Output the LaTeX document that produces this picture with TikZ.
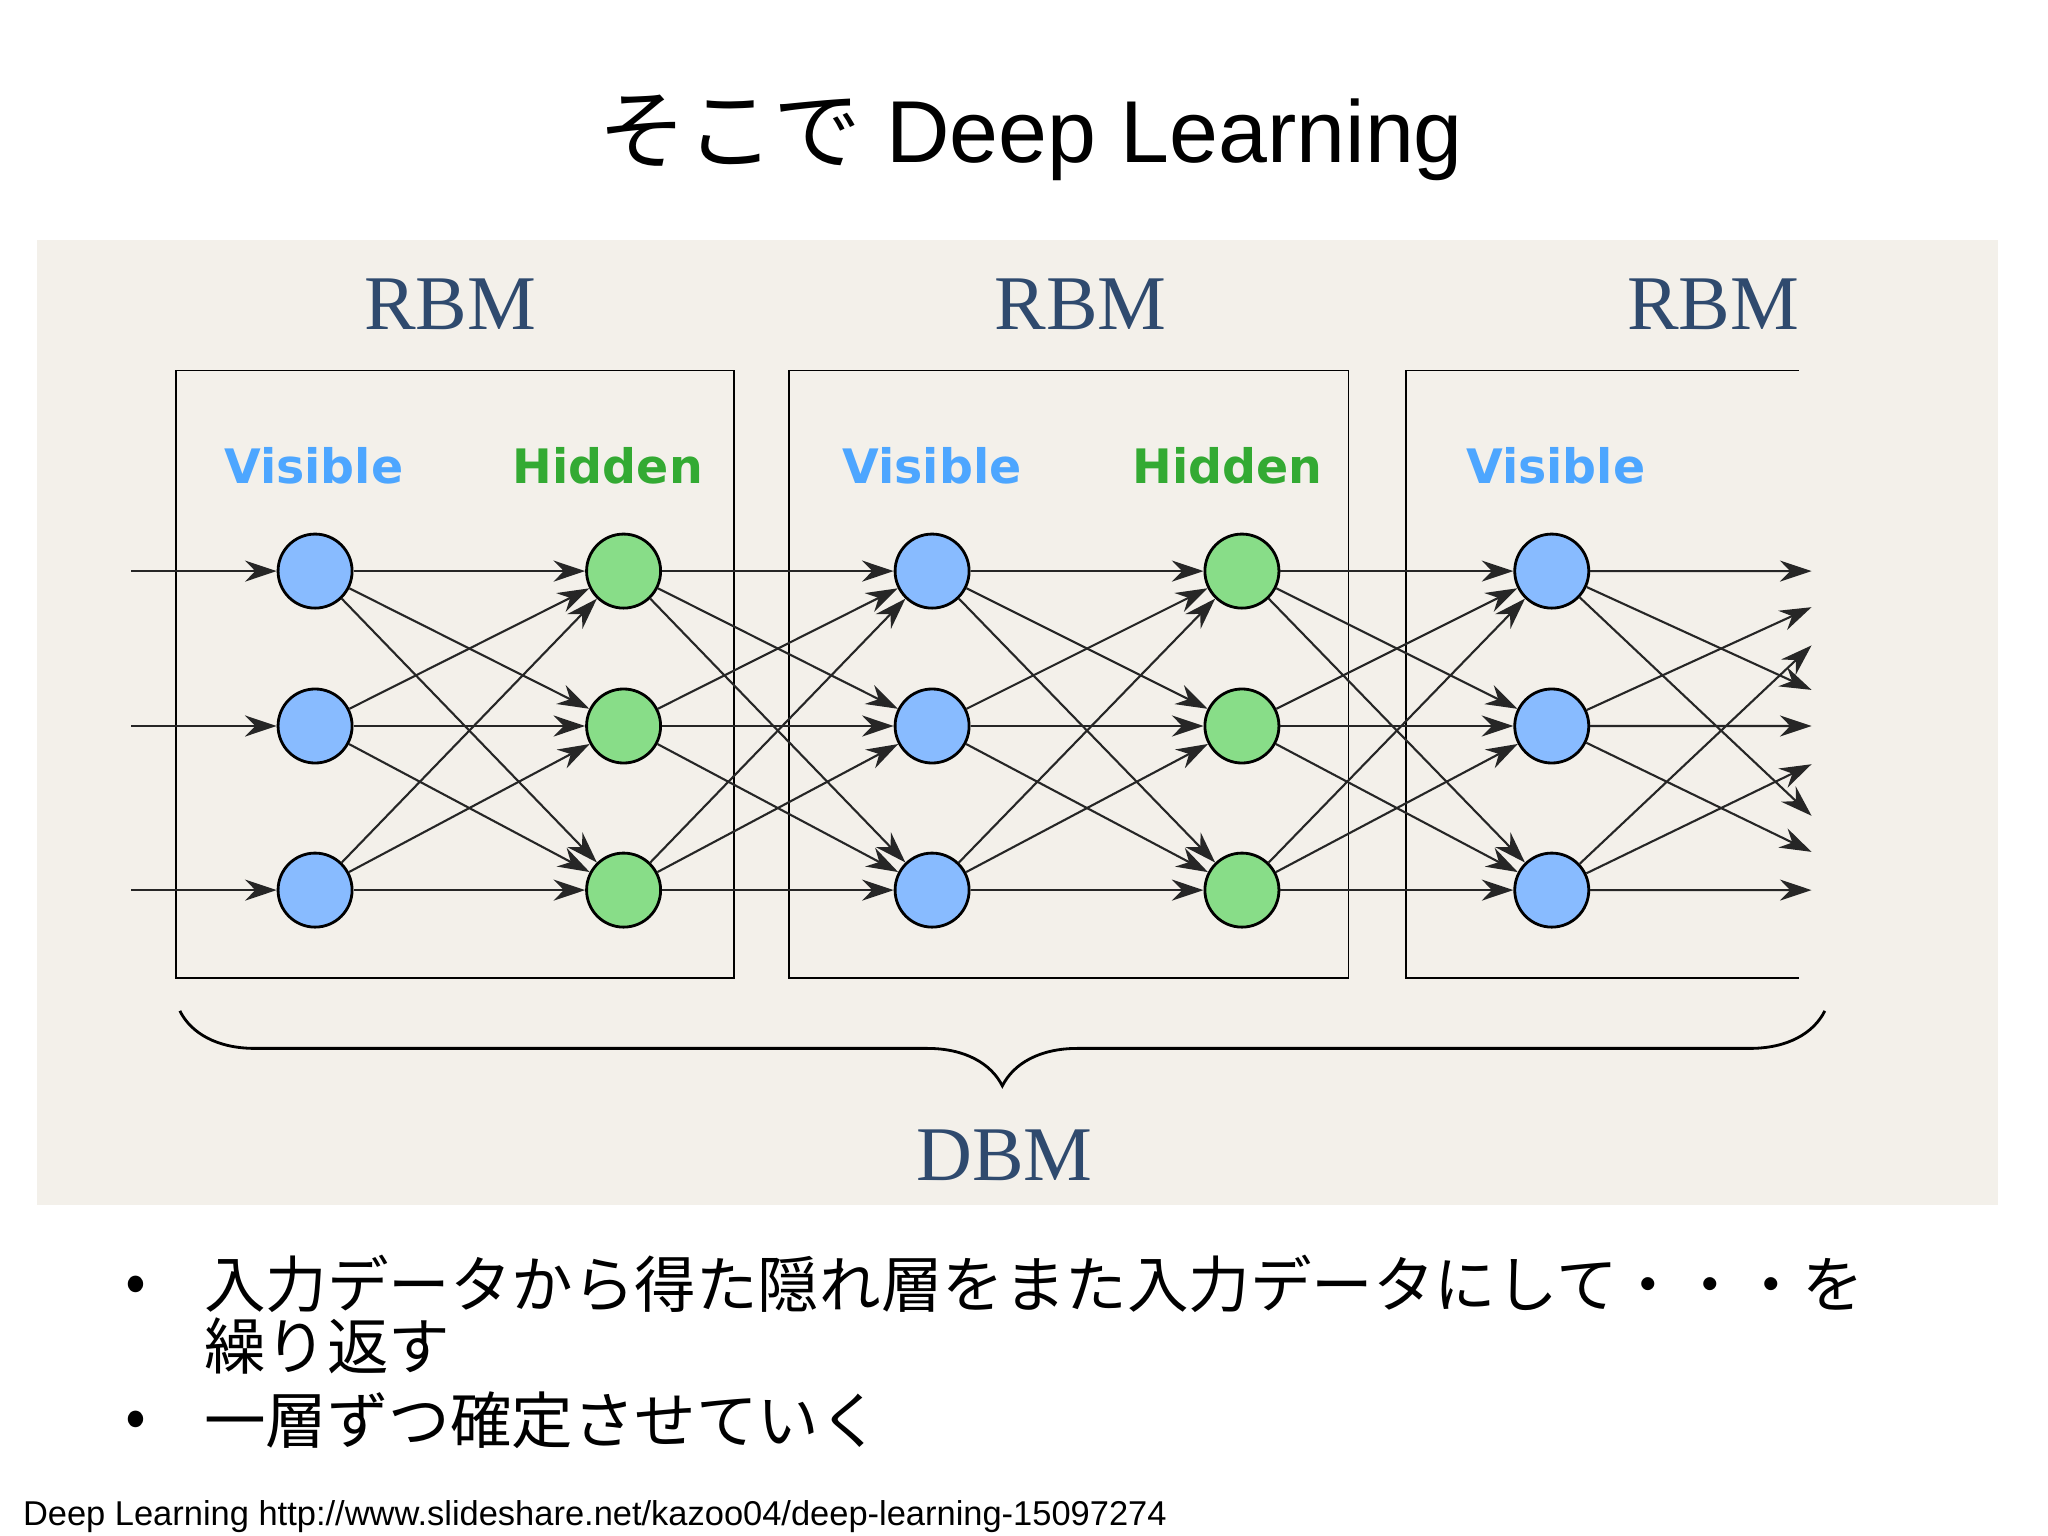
\documentclass[tikz,border=0pt]{standalone}
\usepackage{fontspec}
\setmainfont{Liberation Sans}
\newfontfamily\cjk{Noto Sans CJK JP}
\newfontfamily\rbmfont{Liberation Serif}
\newfontfamily\labfont{DejaVu Sans}
\usetikzlibrary{arrows.meta, decorations.pathreplacing, calc}
\definecolor{panel}{HTML}{F3F0EA}
\definecolor{rbmblue}{HTML}{2F4A6E}
\definecolor{visblue}{HTML}{4DA6FF}
\definecolor{hidgreen}{HTML}{33AA33}
\definecolor{visfill}{HTML}{88BBFF}
\definecolor{hidfill}{HTML}{88DD88}
\tikzset{
    unit/.style={circle, draw, thick, minimum size=0.74cm, inner sep=0pt},
    vis/.style={unit, fill=visfill},
    hid/.style={unit, fill=hidfill},
    conn/.style={-{Stealth[length=9pt, width=6pt]}, black!85, semithick},
    rbm/.style={font=\rbmfont\fontsize{22}{26}\selectfont, text=rbmblue},
    lab/.style={font=\labfont\bfseries\fontsize{13.5}{16}\selectfont}
}
\begin{document}
\begin{tikzpicture}[x=0.013128cm, y=-0.013128cm]
\useasboundingbox (0,0) rectangle (1560,1170);
\fill[white] (0,0) rectangle (1560,1170);

% title
\node (title) at (785,105) {\fontsize{25}{30}\selectfont{\cjk そこで} Deep Learning};

% panel and boxes
\fill[panel] (28,183) rectangle (1522,918);
\draw[thin] (134,282) rectangle (559,745);
\draw[thin] (601,282) rectangle (1027,745);
\draw[thin] (1370,282) -- (1071,282) -- (1071,745) -- (1370,745);

\node[rbm] (rbm1) at (343,232) {RBM};
\node[rbm] (rbm2) at (823,232) {RBM};
\node[rbm] (rbm3) at (1305,232) {RBM};

\node[lab, text=visblue] (vlab1) at (239,355) {Visible};
\node[lab, text=hidgreen] (hlab1) at (463,355) {Hidden};
\node[lab, text=visblue] (vlab2) at (710,355) {Visible};
\node[lab, text=hidgreen] (hlab2) at (935,355) {Hidden};
\node[lab, text=visblue] (vlab3) at (1185,355) {Visible};

% units
\foreach \i/\y in {1/435, 2/553, 3/678} {
    \coordinate (in-\i) at (100,\y);
    \node[vis] (L1-\i) at (240,\y) {};
    \node[hid] (L2-\i) at (475,\y) {};
    \node[vis] (L3-\i) at (710,\y) {};
    \node[hid] (L4-\i) at (946,\y) {};
    \node[vis] (L5-\i) at (1182,\y) {};
    \coordinate (out-\i) at (1440,\y);
    \draw[conn] (in-\i) -- (L1-\i);
}

% connections
\foreach \a/\b in {L1/L2, L2/L3, L3/L4, L4/L5} {
    \foreach \i in {1,2,3} {
        \foreach \j in {1,2,3} {
            \draw[conn] (\a-\i) -- (\b-\j);
        }
    }
}
\foreach \i in {1,2,3} {
    \foreach \j in {1,2,3} {
        \draw[conn] (L5-\i) -- ($(L5-\i.center)!0.767!(out-\j)$);
    }
}

% brace
\coordinate (br-l) at (137,770);
\coordinate (br-r) at (1390,770);
\draw[thick, decorate, decoration={brace, mirror, amplitude=0.75cm}] (br-l) -- (br-r);
\node[rbm] (dbm) at (765,880) {DBM};

% bullets
\begin{scope}[every node/.style={anchor=west, inner sep=0pt, font=\cjk\fontsize{17.5}{20}\selectfont}]
\node (b1) at (95,982) {•};
\node (t1) at (155,978) {入力データから得た隠れ層をまた入力データにして・・・を};
\node (t2) at (155,1025) {繰り返す};
\node (b2) at (95,1085) {•};
\node (t3) at (155,1082) {一層ずつ確定させていく};
\end{scope}

\node[anchor=west, inner sep=0pt, font=\fontsize{9.8}{11}\selectfont] (src) at (17,1155) {Deep Learning http://www.slideshare.net/kazoo04/deep-learning-15097274};
\end{tikzpicture}
\end{document}
